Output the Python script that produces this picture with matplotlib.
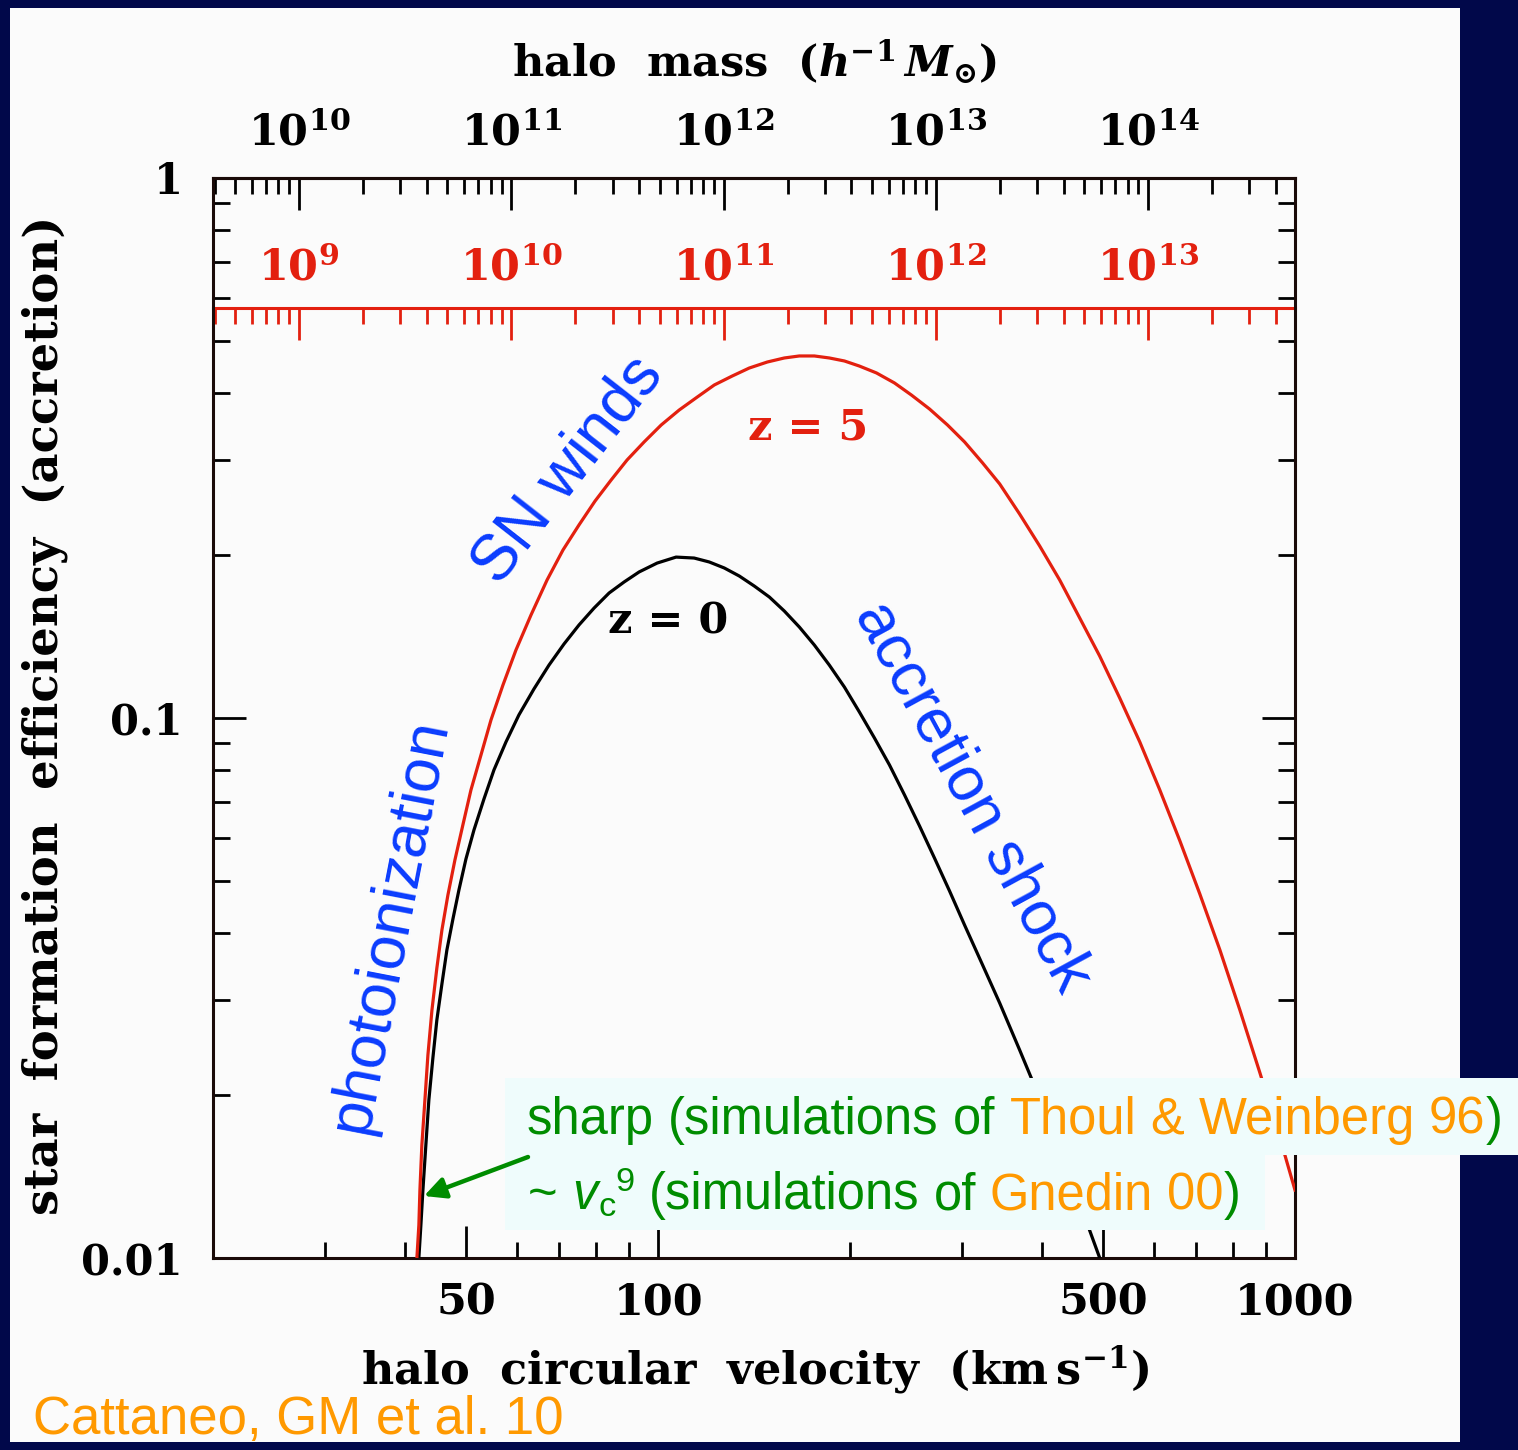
import numpy as np
import matplotlib
matplotlib.use("Agg")
import matplotlib.pyplot as plt
from matplotlib.ticker import (FixedLocator, FixedFormatter, NullFormatter,
                               LogLocator, FuncFormatter)
from matplotlib.patches import Rectangle, FancyArrowPatch

# ---------------------------------------------------------------- data
# star formation efficiency of accreted gas vs. halo circular velocity (km/s)
v_z0 = [42.10, 42.41, 42.72, 43.18, 43.65, 44.29, 44.93, 45.76, 46.59, 47.62,
        48.66, 49.91, 51.38, 53.27, 55.23, 57.68, 60.44, 63.83, 67.39, 71.15,
        75.12, 79.32, 83.75, 88.42, 93.35, 99.63, 106.7, 113.9, 120.3, 127.0,
        134.1, 141.6, 149.5, 157.8, 166.6, 175.9, 185.7, 196.1, 207.0, 218.6,
        230.8, 243.7, 257.3, 271.6, 286.8, 302.8, 323.2, 343.8, 369.5, 397.2,
        427.1, 459.1, 493.6]
eff_z0 = [0.0100, 0.01151, 0.01336, 0.01620, 0.01962, 0.02347, 0.02759,
          0.03218, 0.03719, 0.04245, 0.04802, 0.05481, 0.06203, 0.07079,
          0.08012, 0.09027, 0.1013, 0.1132, 0.1253, 0.1371, 0.1487, 0.1598,
          0.1704, 0.1786, 0.1864, 0.1936, 0.1986, 0.1978, 0.1945, 0.1896,
          0.1832, 0.1755, 0.1675, 0.1578, 0.1474, 0.1365, 0.1253, 0.1141,
          0.1026, 0.09183, 0.08185, 0.07203, 0.06310, 0.05503, 0.04782,
          0.04136, 0.03488, 0.02966, 0.02428, 0.01978, 0.01585, 0.01264,
          0.0100]

v_z5 = [41.80, 42.10, 42.26, 42.56, 43.03, 43.50, 44.14, 44.93, 45.76, 46.76,
        47.96, 49.36, 50.82, 52.70, 54.64, 57.06, 59.80, 63.14, 66.92, 70.89,
        75.12, 79.60, 84.37, 89.38, 95.06, 101.1, 107.9, 115.2, 122.5, 130.7,
        139.0, 148.4, 157.8, 166.6, 175.9, 185.7, 196.1, 207.0, 220.2, 235.0,
        249.9, 266.8, 284.7, 302.8, 323.2, 343.8, 369.5, 397.2, 427.1, 459.1,
        493.6, 530.6, 570.6, 613.4, 659.6, 708.9, 762.2, 819.3, 881.0, 947.1,
        1000.0]
eff_z5 = [0.0100, 0.01151, 0.01336, 0.01620, 0.01962, 0.02376, 0.02879,
          0.03443, 0.04050, 0.04700, 0.05458, 0.06337, 0.07356, 0.08541,
          0.09915, 0.1151, 0.1336, 0.1551, 0.1801, 0.2047, 0.2278, 0.2522,
          0.2759, 0.3005, 0.3245, 0.3488, 0.3718, 0.3930, 0.4137, 0.4298,
          0.4447, 0.4563, 0.4642, 0.4682, 0.4682, 0.4642, 0.4583, 0.4485,
          0.4355, 0.4173, 0.3963, 0.3734, 0.3488, 0.3245, 0.2967, 0.2713,
          0.2386, 0.2083, 0.1801, 0.1532, 0.1302, 0.1089, 0.09027, 0.07356,
          0.05920, 0.04721, 0.03719, 0.02879, 0.02201, 0.01668, 0.01336]

vel_ticks = [50, 100, 500, 1000]
vel_minor = [30, 40, 60, 70, 80, 90, 200, 300, 400, 600, 700, 800, 900]
eff_ticks = [0.01, 0.1, 1]
eff_labels = ["0.01", "0.1", "1"]
mass_ticks_z0 = [1e10, 1e11, 1e12, 1e13, 1e14]
mass_ticks_z5 = [1e9, 1e10, 1e11, 1e12, 1e13]

# halo mass <-> circular velocity (M ∝ v^3)
v_ref = 27.3          # km/s of a 1e10 h^-1 Msun halo at z = 0
m_ref_z0 = 1e10
m_ref_z5 = 1e9

# ---------------------------------------------------------------- style
W, H = 1518, 1450
NAVY = "#01084a"
PANEL = "#fbfbfb"
RED = "#e3200f"
BLUE = "#0a3cff"
GREEN = "#008c00"
ORANGE = "#ff9900"
BOXC = "#effcfc"
SANS = "Liberation Sans"

plt.rcParams["font.family"] = "DejaVu Serif"
plt.rcParams["font.weight"] = "bold"
plt.rcParams["mathtext.fontset"] = "dejavuserif"


def P(x, y):
    """pixel position -> figure fraction"""
    return x / W, 1 - y / H


fig = plt.figure(figsize=(W / 100, H / 100), dpi=100, facecolor=NAVY)
fig.add_artist(Rectangle(P(10, 1442), 1450 / W, 1434 / H,
                         transform=fig.transFigure, facecolor=PANEL,
                         edgecolor="none", zorder=-10))

x0, y0 = P(213, 1258)
ax = fig.add_axes([x0, y0, 1082 / W, 1080 / H])
ax.set_facecolor("none")

ax.plot(v_z0, eff_z0, color="black", lw=2.3, zorder=3)
ax.plot(v_z5, eff_z5, color=RED, lw=2.3, zorder=3)

ax.set_xscale("log")
ax.set_yscale("log")
ax.set_xlim(20, 1000)
ax.set_ylim(0.01, 1)

ax.xaxis.set_major_locator(FixedLocator(vel_ticks))
ax.xaxis.set_major_formatter(FixedFormatter([str(v) for v in vel_ticks]))
ax.xaxis.set_minor_locator(FixedLocator(vel_minor))
ax.xaxis.set_minor_formatter(NullFormatter())
ax.yaxis.set_major_locator(FixedLocator(eff_ticks))
ax.yaxis.set_major_formatter(FixedFormatter(eff_labels))
ax.yaxis.set_minor_locator(LogLocator(base=10, subs=np.arange(2, 10), numticks=50))
ax.yaxis.set_minor_formatter(NullFormatter())

for s in ax.spines.values():
    s.set_linewidth(2.2)
    s.set_color("#1a0a08")

ax.tick_params(axis="x", which="major", direction="in", length=23, width=2,
               bottom=True, top=False, labelsize=31, pad=17)
ax.tick_params(axis="x", which="minor", direction="in", length=11.5, width=2,
               bottom=True, top=False)
ax.tick_params(axis="y", which="major", direction="in", length=24, width=2,
               left=True, right=True, labelsize=30, pad=22)
ax.tick_params(axis="y", which="minor", direction="in", length=12, width=2,
               left=True, right=True)


def v_to_m0(v):
    return m_ref_z0 * (np.asarray(v, dtype=float) / v_ref) ** 3


def m0_to_v(m):
    return v_ref * np.cbrt(np.asarray(m, dtype=float) / m_ref_z0)


def v_to_m5(v):
    return m_ref_z5 * (np.asarray(v, dtype=float) / v_ref) ** 3


def m5_to_v(m):
    return v_ref * np.cbrt(np.asarray(m, dtype=float) / m_ref_z5)


def pow_label(m, _pos):
    return r"$\mathdefault{10^{%d}}$" % int(round(np.log10(m)))


def style_mass_axis(sec, majors, color, pad):
    sec.xaxis.set_major_locator(FixedLocator(majors))
    sec.xaxis.set_minor_locator(LogLocator(base=10, subs=np.arange(2, 10),
                                           numticks=200))
    sec.xaxis.set_major_formatter(FuncFormatter(pow_label))
    sec.xaxis.set_minor_formatter(NullFormatter())
    sec.tick_params(which="major", direction="in", length=23, width=2,
                    labelsize=31, pad=pad, colors=color)
    sec.tick_params(which="minor", direction="in", length=11.5, width=2,
                    colors=color)
    sec.spines["top"].set_color(color)
    sec.spines["top"].set_linewidth(2.2)


top = ax.secondary_xaxis("top", functions=(v_to_m0, m0_to_v))
style_mass_axis(top, mass_ticks_z0, "black", 17)

red_loc = (1258 - 308) / 1080
red_axis = ax.secondary_xaxis(red_loc, functions=(v_to_m5, m5_to_v))
style_mass_axis(red_axis, mass_ticks_z5, RED, 13)

# ---------------------------------------------------------------- labels
fig.text(*P(755, 62), r"halo  mass  ($\mathbfit{h}^{\mathbf{-1}}\,\mathbfit{M}_{\odot}$)",
         ha="center", va="center", size=31)
fig.text(*P(755, 1370), r"halo  circular  velocity  (km$\,$s$^{\mathbf{-1}}$)",
         ha="center", va="center", size=32)
fig.text(*P(45, 715), "star  formation  efficiency  (accretion)",
         rotation=90, ha="center", va="center", size=33.5)

fig.text(*P(808, 428), "z = 5", color=RED, ha="center", va="center", size=31)
fig.text(*P(668, 622), "z = 0", color="black", ha="center", va="center", size=31)

fig.text(*P(568, 470), "SN winds", color=BLUE, family=SANS, weight="normal",
         size=46, rotation=52, rotation_mode="anchor", ha="center", va="center")
fig.text(*P(973, 797), "accretion shock", color=BLUE, family=SANS,
         weight="normal", size=45, rotation=-61.5, rotation_mode="anchor",
         ha="center", va="center")
fig.text(*P(390, 925), "photoionization", color=BLUE, family=SANS,
         weight="normal", size=45, rotation=79, rotation_mode="anchor",
         ha="center", va="center")

fig.text(*P(33, 1420), "Cattaneo, GM et al. 10", color=ORANGE, family=SANS,
         weight="normal", size=38, ha="left", va="center")

# ---------------------------------------------------------------- note box
fig.add_artist(Rectangle(P(505, 1155), 1013 / W, 77 / H,
                         transform=fig.transFigure, facecolor=BOXC,
                         edgecolor="none", zorder=5))
fig.add_artist(Rectangle(P(505, 1230), 760 / W, 76 / H,
                         transform=fig.transFigure, facecolor=BOXC,
                         edgecolor="none", zorder=5))

renderer = fig.canvas.get_renderer()


def text_width(s, size, style="normal"):
    t = fig.text(0, 0, s, family=SANS, weight="normal", size=size, style=style)
    w = t.get_window_extent(renderer).width
    t.remove()
    return w


def draw_runs(x, base, runs, size):
    gap = text_width("n n", size) - text_width("nn", size)
    for txt, color, opts in runs:
        if txt == " ":
            x += gap
            continue
        sz = size * opts.get("scale", 1.0)
        dy = opts.get("dy", 0)
        t = fig.text(*P(x, base - dy), txt, color=color, family=SANS,
                     weight="normal", size=sz,
                     style=opts.get("style", "normal"),
                     ha="left", va="baseline", zorder=6)
        x += t.get_window_extent(renderer).width + opts.get("after", 0)


note_size = 36.5
draw_runs(527, 1134, [
    ("sharp", GREEN, {}), (" ", None, {}),
    ("(simulations", GREEN, {}), (" ", None, {}), ("of", GREEN, {}),
    (" ", None, {}),
    ("Thoul", ORANGE, {}), (" ", None, {}), ("&", ORANGE, {}),
    (" ", None, {}), ("Weinberg", ORANGE, {}), (" ", None, {}),
    ("96", ORANGE, {}), (")", GREEN, {}),
], note_size)
draw_runs(528, 1209, [
    ("~", GREEN, {}), (" ", None, {}),
    ("v", GREEN, {"style": "italic", "after": 1}),
    ("c", GREEN, {"scale": 0.68, "dy": -7}),
    ("9", GREEN, {"scale": 0.68, "dy": 18}), (" ", None, {}),
    ("(simulations", GREEN, {}), (" ", None, {}), ("of", GREEN, {}),
    (" ", None, {}),
    ("Gnedin", ORANGE, {}), (" ", None, {}), ("00", ORANGE, {}),
    (")", GREEN, {}),
], note_size)

fig.add_artist(FancyArrowPatch(P(528, 1157), P(424, 1196),
                               transform=fig.transFigure, arrowstyle="-|>",
                               mutation_scale=32, lw=3.2, color=GREEN,
                               shrinkA=0, shrinkB=0, zorder=7))

fig.savefig("out.png", dpi=100, facecolor=NAVY)
